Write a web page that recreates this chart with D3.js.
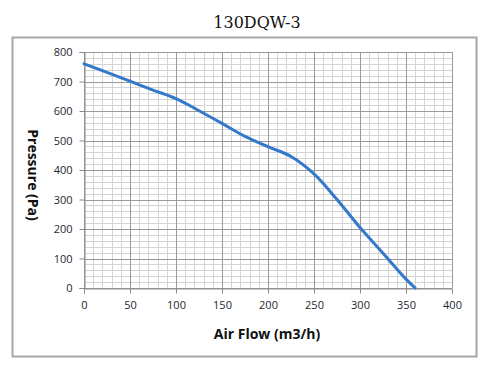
<!DOCTYPE html>
<html>
<head>
<meta charset="utf-8">
<script src="https://cdn.jsdelivr.net/npm/d3@7"></script>
<style>
  body { margin: 0; background: #fff; }
  text { font-family: "Open Sans", "Liberation Sans", sans-serif; }
</style>
</head>
<body>
<div id="chart"></div>
<script>
var flow = [0, 25, 50, 75, 100, 125, 150, 175, 200, 225, 250, 275, 300, 325, 350, 360];
var pressure = [760, 731, 701, 671, 642, 601, 558, 514, 479, 446, 387, 300, 205, 118, 30, 0];
var xTicks = [0, 50, 100, 150, 200, 250, 300, 350, 400];
var yTicks = [0, 100, 200, 300, 400, 500, 600, 700, 800];

var data = flow.map(function(f, i) { return {x: f, y: pressure[i]}; });

var W = 500, H = 374;
var svg = d3.select("#chart").append("svg")
  .attr("width", W)
  .attr("height", H);

// outer frame
svg.append("rect")
  .attr("x", 12.5).attr("y", 37.5)
  .attr("width", 464).attr("height", 319)
  .attr("fill", "none")
  .attr("stroke", "#a6a6a6")
  .attr("stroke-width", 2);

svg.append("text")
  .attr("x", 257).attr("y", 28)
  .attr("text-anchor", "middle")
  .style("font-family", "'DejaVu Serif', 'Liberation Serif', serif")
  .style("font-size", "16px")
  .attr("fill", "#111")
  .text("130DQW-3");

var x = d3.scaleLinear().domain([0, 400]).range([84, 452]);
var y = d3.scaleLinear().domain([0, 800]).range([288, 52]);

// minor grid
var g = svg.append("g");
g.selectAll(".vminor")
  .data(d3.range(0, 401, 10))
  .enter().append("line")
  .attr("x1", function(d) { return Math.round(x(d)) + 0.5; })
  .attr("x2", function(d) { return Math.round(x(d)) + 0.5; })
  .attr("y1", y(800)).attr("y2", y(0))
  .attr("stroke", "#d4d4d4");
g.selectAll(".hminor")
  .data(d3.range(0, 801, 20))
  .enter().append("line")
  .attr("y1", function(d) { return Math.round(y(d)) + 0.5; })
  .attr("y2", function(d) { return Math.round(y(d)) + 0.5; })
  .attr("x1", x(0)).attr("x2", x(400))
  .attr("stroke", "#d4d4d4");

// major grid
g.selectAll(".vmajor")
  .data(xTicks)
  .enter().append("line")
  .attr("x1", function(d) { return Math.round(x(d)) + 0.5; })
  .attr("x2", function(d) { return Math.round(x(d)) + 0.5; })
  .attr("y1", y(800)).attr("y2", y(0))
  .attr("stroke", "#9a9a9a");
g.selectAll(".hmajor")
  .data(yTicks)
  .enter().append("line")
  .attr("y1", function(d) { return Math.round(y(d)) + 0.5; })
  .attr("y2", function(d) { return Math.round(y(d)) + 0.5; })
  .attr("x1", x(0)).attr("x2", x(400))
  .attr("stroke", "#9a9a9a");

// axes
var xAxis = svg.append("g")
  .attr("transform", "translate(0," + (Math.round(y(0)) + 0.5) + ")")
  .call(d3.axisBottom(x).tickValues(xTicks).tickSize(5).tickPadding(8));
var yAxis = svg.append("g")
  .attr("transform", "translate(" + (Math.round(x(0)) + 0.5) + ",0)")
  .call(d3.axisLeft(y).tickValues(yTicks).tickSize(5).tickPadding(7));

[xAxis, yAxis].forEach(function(a) {
  a.select(".domain").attr("stroke", "#8a8a8a");
  a.selectAll(".tick line").attr("stroke", "#8a8a8a");
  a.selectAll("text")
    .style("font-family", "'Open Sans', sans-serif")
    .style("font-size", "11px")
    .attr("fill", "#1f1f2f");
});

// curve
svg.append("path")
  .datum(data)
  .attr("fill", "none")
  .attr("stroke", "#3279cc")
  .attr("stroke-width", 3)
  .attr("stroke-linecap", "round")
  .attr("d", d3.line()
    .x(function(d) { return x(d.x); })
    .y(function(d) { return y(d.y); })
    .curve(d3.curveCatmullRom));

svg.append("text")
  .attr("x", 267).attr("y", 339)
  .attr("text-anchor", "middle")
  .style("font-size", "14px")
  .style("font-weight", "bold")
  .attr("fill", "#111")
  .text("Air Flow (m3/h)");

svg.append("text")
  .attr("transform", "translate(28,175) rotate(90)")
  .attr("text-anchor", "middle")
  .style("font-size", "14px")
  .style("font-weight", "bold")
  .attr("fill", "#111")
  .text("Pressure (Pa)");
</script>
</body>
</html>
